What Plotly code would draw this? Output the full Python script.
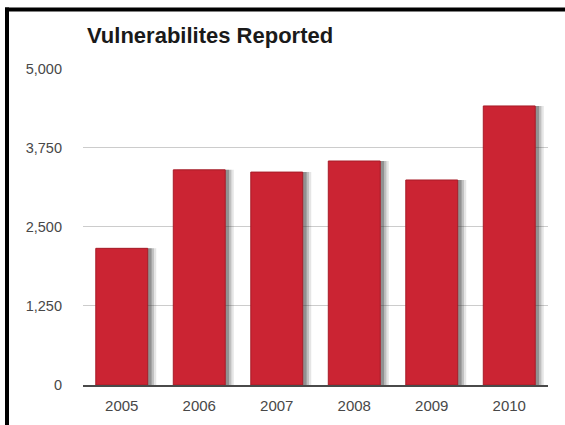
import plotly.graph_objects as go

years = ["2005", "2006", "2007", "2008", "2009", "2010"]
reported = [2160, 3400, 3365, 3540, 3240, 4410]
y_ticks = [0, 1250, 2500, 3750, 5000]
title_text = "Vulnerabilites Reported"

W, H = 565, 425
ML, MR, MT, MB = 83, 17, 68, 40
pw, ph = W - ML - MR, H - MT - MB

bar_w = 0.67
fig = go.Figure()
# soft drop shadow layers
for dx, alpha in [(0.11, 0.12), (0.08, 0.2), (0.05, 0.3)]:
    fig.add_trace(go.Bar(
        x=years, y=reported, width=bar_w, offset=-bar_w / 2 + dx,
        marker=dict(color=f"rgba(40,40,40,{alpha})", line=dict(width=0)),
        hoverinfo="skip", showlegend=False,
    ))
fig.add_trace(go.Bar(
    x=years, y=reported, width=bar_w, offset=-bar_w / 2,
    marker=dict(color="#cb2433", line=dict(color="#a81c28", width=1)),
    showlegend=False,
))

def px_x(p):
    return (p - ML) / pw

def px_y(p):
    return 1 - (p - MT) / ph

fig.update_layout(
    width=W, height=H, autosize=False,
    margin=dict(l=ML, r=MR, t=MT, b=MB, pad=0),
    paper_bgcolor="white", plot_bgcolor="white",
    barmode="overlay", bargap=0.33,
    title=dict(text=f"<b>{title_text}</b>", x=px_x(87), xref="paper", xanchor="left",
               y=1 - 35 / H, yanchor="middle",
               font=dict(family="Liberation Sans, Arial, sans-serif", size=22, color="#1a1a1a")),
    font=dict(family="Liberation Sans, Arial, sans-serif", size=14, color="#444"),
    xaxis=dict(type="category", range=[-0.5, 5.5], showgrid=False, showline=True,
               linecolor="#4a4a4a", linewidth=2, ticks="", ticklabelstandoff=6,
               tickfont=dict(size=15, color="#484848"), fixedrange=True),
    yaxis=dict(range=[0, 5010], tickvals=y_ticks, tickformat=",", showgrid=True,
               gridcolor="#cccccc", gridwidth=1, zeroline=False, showline=False,
               ticks="", ticklabelstandoff=20, tickfont=dict(size=14.5, color="#484848"),
               fixedrange=True),
    shapes=[
        dict(type="line", xref="paper", yref="paper", x0=px_x(7), x1=px_x(7),
             y0=px_y(425), y1=px_y(7.5), line=dict(color="black", width=4)),
        dict(type="line", xref="paper", yref="paper", x0=px_x(5), x1=px_x(566),
             y0=px_y(9.5), y1=px_y(9.5), line=dict(color="black", width=4)),
    ],
)

fig.write_html("out.html")
